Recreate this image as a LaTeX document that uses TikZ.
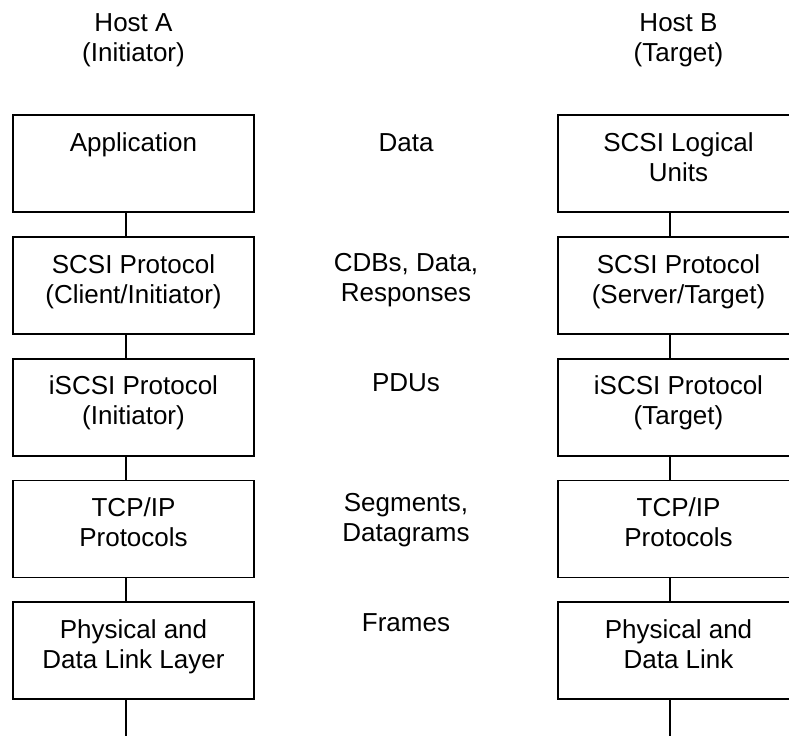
\documentclass[tikz,border=0pt]{standalone}
\usepackage{fontspec}
\setmainfont{Liberation Sans}
\usetikzlibrary{positioning}

\tikzset{
  txt/.style={align=center, inner sep=0pt, font=\fontsize{26}{30}\selectfont},
  layer/.style={draw, minimum width=241pt, minimum height=97pt, inner sep=0pt,
    label={[txt, anchor=north, yshift=-17.5pt]north:#1}},
}

\begin{document}
\begin{tikzpicture}[x=1pt, y=-1pt, line width=1.8pt]
        \useasboundingbox (0,0) rectangle (789,736);
        %
        \node[txt, anchor=north] (hosta) at (133.5,12.5) {Host A\\(Initiator)};
        \node[txt, anchor=north] (hostb) at (678.5,12.5) {Host B\\(Target)};
        %
        \node[layer={Application}] (a1) at (133.5,163.5) {};
        \node[layer={SCSI Protocol\\(Client/Initiator)}, below=23pt of a1] (a2) {};
        \node[layer={iSCSI Protocol\\(Initiator)}, below=23pt of a2] (a3) {};
        \node[layer={TCP/IP\\Protocols}, below=23pt of a3] (a4) {};
        \node[layer={Physical and\\Data Link Layer}, below=23pt of a4] (a5) {};
        \coordinate (a6) at (126,736);
        %
        \node[layer={SCSI Logical\\Units}] (b1) at (678.5,163.5) {};
        \node[layer={SCSI Protocol\\(Server/Target)}, below=23pt of b1] (b2) {};
        \node[layer={iSCSI Protocol\\(Target)}, below=23pt of b2] (b3) {};
        \node[layer={TCP/IP\\Protocols}, below=23pt of b3] (b4) {};
        \node[layer={Physical and\\Data Link}, below=23pt of b4] (b5) {};
        \coordinate (b6) at (670,736);
        %
        \node[txt, anchor=north] (m1) at (406,132.5) {Data};
        \node[txt, anchor=north] (m2) at (406,252.5) {CDBs, Data,\\Responses};
        \node[txt, anchor=north] (m3) at (406,372.5) {PDUs};
        \node[txt, anchor=north] (m4) at (406,492.5) {Segments,\\Datagrams};
        \node[txt, anchor=north] (m5) at (406,612.5) {Frames};
        %
        \foreach \i/\j in {1/2,2/3,3/4,4/5} {
          \draw (a\i.south -| a6) -- (a\j.north -| a6);
          \draw (b\i.south -| b6) -- (b\j.north -| b6);
        }
        \draw (a5.south -| a6) -- (a6);
        \draw (b5.south -| b6) -- (b6);
\end{tikzpicture}
\end{document}
